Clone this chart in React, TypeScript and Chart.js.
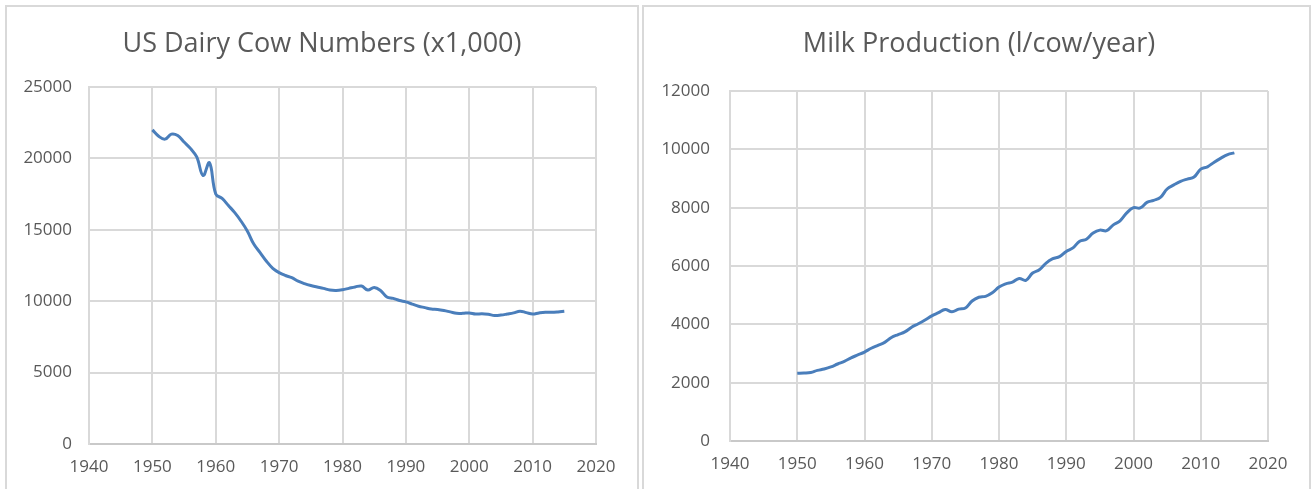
import React, { useEffect, useRef } from "react";
import { Chart, registerables } from "chart.js";

Chart.register(...registerables);

const years: number[] = [
  1950, 1951, 1952, 1953, 1954, 1955, 1956, 1957, 1958, 1959,
  1960, 1961, 1962, 1963, 1964, 1965, 1966, 1967, 1968, 1969,
  1970, 1971, 1972, 1973, 1974, 1975, 1976, 1977, 1978, 1979,
  1980, 1981, 1982, 1983, 1984, 1985, 1986, 1987, 1988, 1989,
  1990, 1991, 1992, 1993, 1994, 1995, 1996, 1997, 1998, 1999,
  2000, 2001, 2002, 2003, 2004, 2005, 2006, 2007, 2008, 2009,
  2010, 2011, 2012, 2013, 2014, 2015,
];

const cowNumbers: number[] = [
  22000, 21550, 21350, 21700, 21600, 21150, 20700, 20100, 18800, 19700,
  17500, 17200, 16700, 16200, 15600, 14900, 14000, 13400, 12800, 12300,
  12000, 11800, 11650, 11400, 11230, 11100, 11000, 10900, 10780, 10750,
  10800, 10900, 11000, 11060, 10780, 10960, 10750, 10300, 10200, 10050,
  9950, 9800, 9650, 9550, 9450, 9420, 9350, 9250, 9150, 9150,
  9180, 9100, 9120, 9080, 9000, 9030, 9100, 9180, 9300, 9200,
  9100, 9180, 9230, 9220, 9250, 9300,
];

const milkPerCow: number[] = [
  2320, 2330, 2350, 2420, 2470, 2540, 2640, 2730, 2850, 2950,
  3050, 3180, 3280, 3380, 3550, 3650, 3740, 3900, 4020, 4150,
  4290, 4400, 4510, 4430, 4520, 4560, 4800, 4930, 4960, 5080,
  5280, 5390, 5450, 5570, 5510, 5760, 5870, 6100, 6250, 6320,
  6500, 6620, 6850, 6920, 7130, 7230, 7210, 7410, 7550, 7820,
  8000, 7990, 8180, 8250, 8350, 8640, 8780, 8900, 8980, 9050,
  9320, 9400, 9560, 9700, 9820, 9880,
];

const xTicks: number[] = [1940, 1950, 1960, 1970, 1980, 1990, 2000, 2010, 2020];
const cowYTicks: number[] = [0, 5000, 10000, 15000, 20000, 25000];
const milkYTicks: number[] = [0, 2000, 4000, 6000, 8000, 10000, 12000];

const cowTitle = "US Dairy Cow Numbers (x1,000)";
const milkTitle = "Milk Production (l/cow/year)";

const FONT = "'Open Sans', 'Liberation Sans', sans-serif";
const TEXT = "#595959";
const GRID = "#d9d9d9";
const LINE = "#4a7ebb";

type Cfg = {
  title: string;
  titleX: number;
  titleY: number;
  values: number[];
  yTicks: number[];
  yWidth: number;
  xHeight: number;
  padTop: number;
  padRight: number;
  yPad: number;
};

function LineChart({ cfg, style }: { cfg: Cfg; style: React.CSSProperties }) {
  const ref = useRef<HTMLCanvasElement | null>(null);
  useEffect(() => {
    if (!ref.current) return;
    const ymax = cfg.yTicks[cfg.yTicks.length - 1];
    const titlePlugin = {
      id: "fixedTitle",
      afterDraw(chart: any) {
        const ctx = chart.ctx;
        ctx.save();
        ctx.font = `normal 27px ${FONT}`;
        ctx.fillStyle = TEXT;
        ctx.textAlign = "center";
        ctx.textBaseline = "middle";
        ctx.fillText(cfg.title, cfg.titleX, cfg.titleY);
        ctx.restore();
      },
    };
    const chart = new Chart(ref.current, {
      type: "line",
      data: {
        datasets: [
          {
            data: years.map((y, i) => ({ x: y, y: cfg.values[i] })),
            borderColor: LINE,
            borderWidth: 3,
            pointRadius: 0,
            tension: 0.4,
            fill: false,
          },
        ],
      },
      plugins: [titlePlugin],
      options: {
        animation: false,
        responsive: false,
        maintainAspectRatio: false,
        layout: { padding: { left: 0, right: cfg.padRight, top: cfg.padTop, bottom: 0 } },
        plugins: {
          legend: { display: false },
          tooltip: { enabled: false },
          title: { display: false },
        },
        scales: {
          x: {
            type: "linear",
            min: xTicks[0],
            max: xTicks[xTicks.length - 1],
            afterBuildTicks: (s: any) => {
              s.ticks = xTicks.map((v) => ({ value: v }));
            },
            afterFit: (s: any) => {
              s.height = cfg.xHeight;
            },
            ticks: {
              color: TEXT,
              font: { family: FONT, size: 17 },
              padding: 13,
              maxRotation: 0,
              callback: (v: any) => String(v),
            },
            grid: { color: GRID, lineWidth: 2, drawTicks: false },
            border: { color: "#c9c9c9", width: 2 },
          },
          y: {
            type: "linear",
            min: 0,
            max: ymax,
            afterBuildTicks: (s: any) => {
              s.ticks = cfg.yTicks.map((v) => ({ value: v }));
            },
            afterFit: (s: any) => {
              s.width = cfg.yWidth;
            },
            ticks: {
              color: TEXT,
              font: { family: FONT, size: 17 },
              padding: cfg.yPad,
              callback: (v: any) => String(v),
            },
            grid: { color: GRID, lineWidth: 2, drawTicks: false },
            border: { color: GRID, width: 2 },
          },
        },
      },
    });
    return () => chart.destroy();
  }, [cfg]);
  return <canvas ref={ref} width={style.width as number} height={style.height as number} style={style} />;
}

const cowCfg: Cfg = {
  title: cowTitle,
  titleX: 315,
  titleY: 37,
  values: cowNumbers,
  yTicks: cowYTicks,
  yWidth: 82,
  xHeight: 45,
  padTop: 80,
  padRight: 41,
  yPad: 17,
};

const milkCfg: Cfg = {
  title: milkTitle,
  titleX: 335,
  titleY: 37,
  values: milkPerCow,
  yTicks: milkYTicks,
  yWidth: 86,
  xHeight: 48,
  padTop: 84,
  padRight: 41,
  yPad: 20,
};

export default function App() {
  return (
    <div style={{ position: "absolute", left: 0, top: 0, width: 1311, height: 489, overflow: "hidden", background: "#fff" }}>
      <div
        style={{
          position: "absolute",
          left: 5,
          top: 5,
          width: 634,
          height: 500,
          border: "2px solid #d9d9d9",
          boxSizing: "border-box",
        }}
      />
      <div
        style={{
          position: "absolute",
          left: 642,
          top: 5,
          width: 669,
          height: 500,
          border: "2px solid #d9d9d9",
          boxSizing: "border-box",
        }}
      />
      <LineChart cfg={cowCfg} style={{ position: "absolute", left: 7, top: 7, width: 630, height: 482 }} />
      <LineChart cfg={milkCfg} style={{ position: "absolute", left: 644, top: 7, width: 665, height: 482 }} />
    </div>
  );
}
